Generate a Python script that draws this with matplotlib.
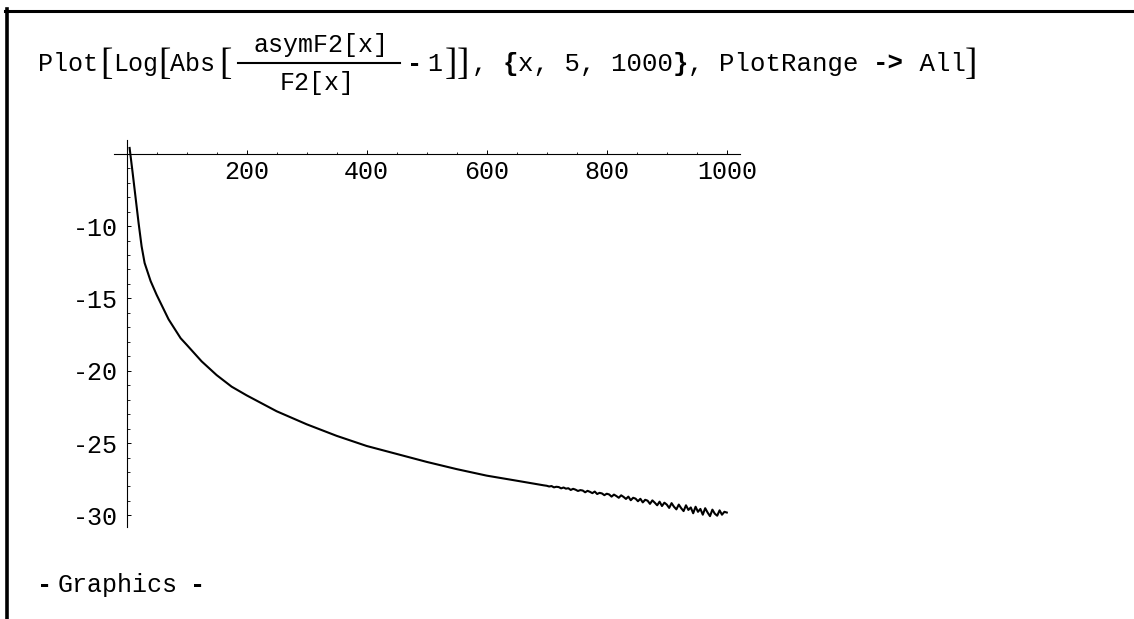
import numpy as np
import matplotlib
matplotlib.use("Agg")
import matplotlib.pyplot as plt
from matplotlib.lines import Line2D
from matplotlib.ticker import FixedLocator, FuncFormatter

# values
x_smooth = [5, 10, 15, 20, 25, 30, 40, 50, 60, 70, 80, 90, 100, 125, 150, 175,
            200, 250, 300, 350, 400, 450, 500, 550, 600, 650, 695]
y_smooth = [-4.6, -6.3, -8.05, -9.8, -11.4, -12.55, -13.8, -14.75, -15.6, -16.45,
            -17.1, -17.75, -18.2, -19.35, -20.3, -21.1, -21.7, -22.8, -23.7, -24.5,
            -25.2, -25.75, -26.3, -26.8, -27.25, -27.6, -27.92]

# the ragged tail past x = 700
x_noisy = [700, 704, 708, 712, 716, 720, 724, 728, 732, 736,
           740, 744, 748, 752, 756, 760, 764, 768, 772, 776,
           780, 784, 788, 792, 796, 800, 804, 808, 812, 816,
           820, 824, 828, 832, 836, 840, 844, 848, 852, 856,
           860, 864, 868, 872, 876, 880, 884, 888, 892, 896,
           900, 904, 908, 912, 916, 920, 924, 928, 932, 936,
           940, 944, 948, 952, 956, 960, 964, 968, 972, 976,
           980, 984, 988, 992, 996, 1000]
y_noisy = [-27.95, -28.00, -27.97, -28.06, -28.02, -28.04, -28.13, -28.07, -28.15, -28.12,
           -28.24, -28.16, -28.22, -28.31, -28.25, -28.28, -28.40, -28.30, -28.37, -28.46,
           -28.35, -28.52, -28.44, -28.48, -28.60, -28.50, -28.55, -28.70, -28.56, -28.66,
           -28.78, -28.61, -28.72, -28.86, -28.70, -28.95, -28.78, -28.84, -29.02, -28.85,
           -29.10, -28.92, -28.98, -29.20, -28.96, -29.12, -29.30, -29.05, -29.35, -29.12,
           -29.25, -29.48, -29.15, -29.40, -29.58, -29.25, -29.50, -29.70, -29.30, -29.62,
           -29.45, -29.85, -29.40, -29.75, -29.55, -29.95, -29.50, -29.80, -30.05, -29.60,
           -29.88, -30.02, -29.65, -29.95, -29.75, -29.80]

x_major = [200, 400, 600, 800, 1000]
x_minor = [50, 100, 150, 250, 300, 350, 450, 500, 550, 650, 700, 750, 850, 900, 950]
y_major = [-30, -25, -20, -15, -10]
y_minor = [-29, -28, -27, -26, -24, -23, -22, -21, -19, -18, -17, -16,
           -14, -13, -12, -11, -9, -8, -7, -6]

W, H = 1134, 619
MONO = "Liberation Mono"
BRACKET = "Liberation Serif"


def fx(px):
    return px / W


def fy(py):
    return 1 - py / H


def mono_run(fig, x0, y0, parts, size):
    # place monospace pieces one after another, some of them bold
    cw = 0.6 * size * 100 / 72
    pos = x0
    for txt, bold in parts:
        fig.text(fx(pos), fy(y0), txt, family=MONO, fontsize=size, va="baseline",
                 weight="bold" if bold else "normal")
        pos += cw * len(txt)
    return pos


def bracket(fig, cx, ch):
    # tall thin brackets, like the stretched ones in the notebook
    fig.text(fx(cx), fy(65), ch, family=BRACKET, fontsize=27, ha="center", va="center")


fig = plt.figure(figsize=(W / 100, H / 100), dpi=100, facecolor="white")

# plot area in pixels: left 114, right 740, top 140, bottom 527
ax = fig.add_axes([fx(114), fy(527), (740 - 114) / W, (527 - 140) / H])
ax.set_facecolor("white")

x = x_smooth + x_noisy
y = y_smooth + y_noisy
ax.plot(x, y, color="black", lw=1.5)

ax.set_xlim(-21, 1022)
ax.set_ylim(-30.8, -4.05)

for s in ["top", "right"]:
    ax.spines[s].set_visible(False)
ax.spines["left"].set_position(("data", 0))
ax.spines["bottom"].set_position(("data", -5))
ax.spines["left"].set_linewidth(0.8)
ax.spines["bottom"].set_linewidth(0.8)

ax.xaxis.set_major_locator(FixedLocator(x_major))
ax.xaxis.set_minor_locator(FixedLocator(x_minor))
ax.yaxis.set_major_locator(FixedLocator(y_major))
ax.yaxis.set_minor_locator(FixedLocator(y_minor))
fmt = FuncFormatter(lambda v, p: "%d" % v)
ax.xaxis.set_major_formatter(fmt)
ax.yaxis.set_major_formatter(fmt)

ax.tick_params(which="major", direction="in", length=3, width=0.7)
ax.tick_params(which="minor", direction="in", length=1.8, width=0.6)
ax.tick_params(axis="x", which="major", pad=4.5)
ax.tick_params(axis="y", which="major", pad=6)
for lab in ax.get_xticklabels() + ax.get_yticklabels():
    lab.set_fontfamily(MONO)
    lab.set_fontsize(18)

# notebook cell frame
fig.add_artist(Line2D([fx(6.5), fx(6.5)], [fy(9), fy(H)], color="black", lw=2.6))
fig.add_artist(Line2D([fx(5), fx(W)], [fy(10.5), fy(10.5)], color="black", lw=2.2))

# input line
base = 71
fs = 18
fig.text(fx(38), fy(base), "Plot", family=MONO, fontsize=fs, va="baseline")
fig.text(fx(113), fy(base), "Log", family=MONO, fontsize=fs, va="baseline")
fig.text(fx(170), fy(base), "Abs", family=MONO, fontsize=fs, va="baseline")
for bx in [106, 164, 225]:
    bracket(fig, bx, "[")

fig.text(fx(321), fy(52), "asymF2[x]", family=MONO, fontsize=fs, ha="center", va="baseline")
fig.text(fx(317), fy(90), "F2[x]", family=MONO, fontsize=fs, ha="center", va="baseline")
fig.add_artist(Line2D([fx(238), fx(400)], [fy(62.5), fy(62.5)], color="black", lw=1.5))

fig.text(fx(407), fy(base), "-", family=MONO, fontsize=fs, va="baseline", weight="bold")
fig.text(fx(427), fy(base), "1", family=MONO, fontsize=fs, va="baseline")
for bx in [451, 463]:
    bracket(fig, bx, "]")

end = mono_run(fig, 472, base,
               [(", ", False), ("{", True), ("x, 5, 1000", False), ("}", True),
                (", PlotRange ", False), ("->", True), (" All", False)], fs + 0.5)
bracket(fig, end + 6, "]")

# output line
fig.text(fx(37), fy(585), "-", family=MONO, fontsize=fs, va="center", weight="bold")
fig.text(fx(58), fy(585), "Graphics", family=MONO, fontsize=fs, va="center")
fig.text(fx(190), fy(585), "-", family=MONO, fontsize=fs, va="center", weight="bold")

fig.savefig("out.png", dpi=100, facecolor="white")
